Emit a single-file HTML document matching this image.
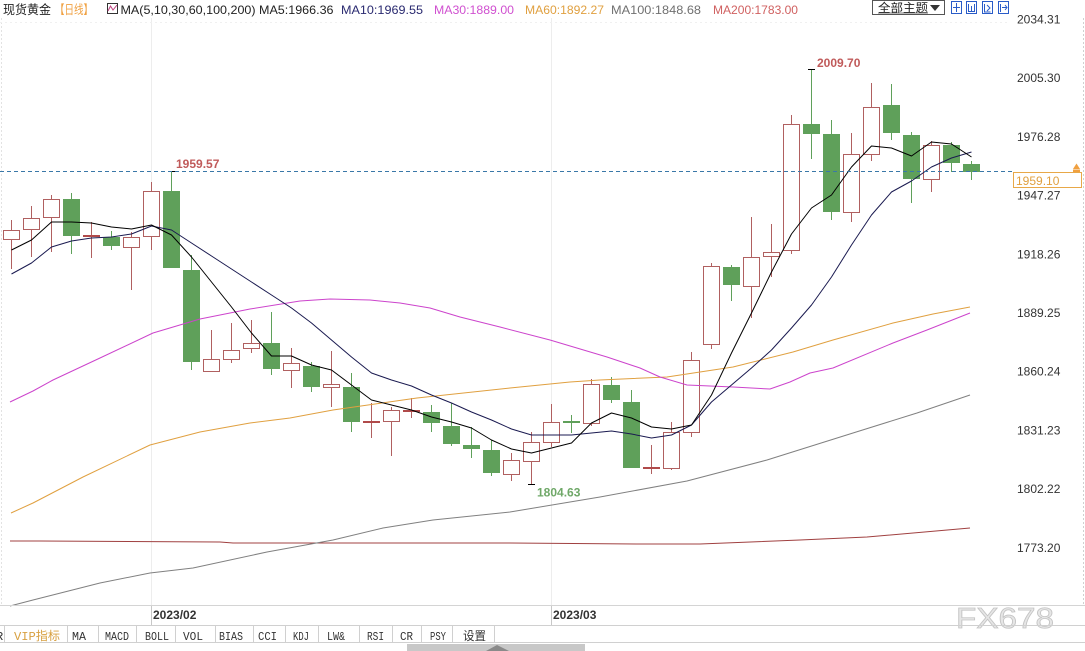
<!DOCTYPE html>
<html><head><meta charset="utf-8"><style>
html,body{margin:0;padding:0;background:#fff;}
svg{display:block;}
</style></head><body>
<svg width="1085" height="651" viewBox="0 0 1085 651" xmlns="http://www.w3.org/2000/svg" font-family="'Liberation Sans','Noto Sans CJK SC',sans-serif">
<rect width="1085" height="651" fill="#fff"/>

<!-- header -->
<g font-size="12">
<text x="3" y="14" textLength="48" lengthAdjust="spacingAndGlyphs" fill="#222" font-size="12.5">现货黄金</text>
<text x="55" y="14" textLength="38" lengthAdjust="spacingAndGlyphs" fill="#f0a040" font-size="12.5">【日线】</text>
<rect x="107.5" y="3.5" width="10" height="10" fill="none" stroke="#333" stroke-width="1"/>
<polyline points="108,11 110.5,6 113,10 117,5" fill="none" stroke="#c04080" stroke-width="1"/>
<text x="120.5" y="14" textLength="213" lengthAdjust="spacingAndGlyphs" fill="#222">MA(5,10,30,60,100,200) MA5:1966.36</text>
<text x="341" y="14" textLength="82" lengthAdjust="spacingAndGlyphs" fill="#2a2a70">MA10:1969.55</text>
<text x="434" y="14" textLength="80" lengthAdjust="spacingAndGlyphs" fill="#d050d0">MA30:1889.00</text>
<text x="525" y="14" textLength="79" lengthAdjust="spacingAndGlyphs" fill="#e0a040">MA60:1892.27</text>
<text x="611" y="14" textLength="90" lengthAdjust="spacingAndGlyphs" fill="#707070">MA100:1848.68</text>
<text x="713" y="14" textLength="85" lengthAdjust="spacingAndGlyphs" fill="#d06060">MA200:1783.00</text>
</g>
<rect x="872.5" y="0.5" width="72" height="14" fill="#fff" stroke="#555"/>
<text x="878" y="12" font-size="12" textLength="50" lengthAdjust="spacingAndGlyphs" fill="#222">全部主题</text>
<line x1="878" y1="13" x2="928" y2="13" stroke="#444" stroke-width="0.8"/>
<polygon points="930,5 940,5 935,11" fill="#333"/>
<g fill="#fff" stroke="#2a5cc8" stroke-width="1">
<rect x="951.5" y="1.5" width="10" height="12"/>
<rect x="966.5" y="1.5" width="10" height="12"/>
<rect x="982.5" y="1.5" width="10" height="12"/>
<rect x="998.5" y="1.5" width="10" height="12"/>
</g>
<g stroke="#2a5cc8" stroke-width="1" fill="none">
<path d="M956.5 3v9M953 7.5h7"/>
<path d="M968.5 4v7M974.5 4v7M968 11.5h7M971.5 6v5"/>
<path d="M984.5 4v8h6M987 5l3 3-3 3"/>
<path d="M1000.5 4v8M1002 7.5h5M1005 5l2 2.5-2 2.5"/>
</g>

<!-- grid / borders -->
<line x1="151.5" y1="18" x2="151.5" y2="606" stroke="#ededed"/>
<line x1="551.5" y1="18" x2="551.5" y2="606" stroke="#ededed"/>
<line x1="1.5" y1="18" x2="1.5" y2="606" stroke="#e2e2e2" stroke-dasharray="2,2"/>
<line x1="1083.5" y1="18" x2="1083.5" y2="606" stroke="#d0d0d0" stroke-dasharray="2,2"/>
<line x1="0" y1="22.5" x2="1010" y2="22.5" stroke="#f0f0f0" stroke-dasharray="2,3"/>

<!-- candles: wicks -->
<g stroke-width="1" shape-rendering="crispEdges">
<g stroke="#b06060">
<line x1="11.5" y1="220" x2="11.5" y2="269"/>
<line x1="31.5" y1="206" x2="31.5" y2="257"/>
<line x1="51.5" y1="195" x2="51.5" y2="252"/>
<line x1="91.5" y1="222" x2="91.5" y2="258"/>
<line x1="131.5" y1="232" x2="131.5" y2="290"/>
<line x1="151.5" y1="182" x2="151.5" y2="250"/>
<line x1="211.5" y1="330" x2="211.5" y2="372"/>
<line x1="231.5" y1="323" x2="231.5" y2="363"/>
<line x1="251.5" y1="320" x2="251.5" y2="353"/>
<line x1="291.5" y1="348" x2="291.5" y2="388"/>
<line x1="331.5" y1="351" x2="331.5" y2="407"/>
<line x1="371.5" y1="403" x2="371.5" y2="438"/>
<line x1="391.5" y1="407" x2="391.5" y2="456"/>
<line x1="411.5" y1="398" x2="411.5" y2="418"/>
<line x1="511.5" y1="453" x2="511.5" y2="481"/>
<line x1="531.5" y1="432" x2="531.5" y2="484"/>
<line x1="551.5" y1="404" x2="551.5" y2="447"/>
<line x1="591.5" y1="379" x2="591.5" y2="426"/>
<line x1="651.5" y1="445" x2="651.5" y2="474"/>
<line x1="671.5" y1="422" x2="671.5" y2="470"/>
<line x1="691.5" y1="352" x2="691.5" y2="437"/>
<line x1="711.5" y1="263" x2="711.5" y2="349"/>
<line x1="751.5" y1="217" x2="751.5" y2="318"/>
<line x1="771.5" y1="224" x2="771.5" y2="277"/>
<line x1="791.5" y1="115" x2="791.5" y2="254"/>
<line x1="851.5" y1="133" x2="851.5" y2="222"/>
<line x1="871.5" y1="83" x2="871.5" y2="161"/>
<line x1="931.5" y1="141" x2="931.5" y2="192"/>
</g>
<g stroke="#5fa05a">
<line x1="71.5" y1="193" x2="71.5" y2="254"/>
<line x1="111.5" y1="231" x2="111.5" y2="250"/>
<line x1="171.5" y1="171" x2="171.5" y2="268"/>
<line x1="191.5" y1="255" x2="191.5" y2="370"/>
<line x1="271.5" y1="312" x2="271.5" y2="375"/>
<line x1="311.5" y1="362" x2="311.5" y2="392"/>
<line x1="351.5" y1="373" x2="351.5" y2="432"/>
<line x1="431.5" y1="405" x2="431.5" y2="432"/>
<line x1="451.5" y1="403" x2="451.5" y2="446"/>
<line x1="471.5" y1="427" x2="471.5" y2="458"/>
<line x1="491.5" y1="440" x2="491.5" y2="476"/>
<line x1="571.5" y1="415" x2="571.5" y2="433"/>
<line x1="611.5" y1="377" x2="611.5" y2="403"/>
<line x1="631.5" y1="390" x2="631.5" y2="468"/>
<line x1="731.5" y1="265" x2="731.5" y2="301"/>
<line x1="811.5" y1="69" x2="811.5" y2="159"/>
<line x1="831.5" y1="120" x2="831.5" y2="220"/>
<line x1="891.5" y1="84" x2="891.5" y2="140"/>
<line x1="911.5" y1="132" x2="911.5" y2="203"/>
<line x1="951.5" y1="142" x2="951.5" y2="172"/>
<line x1="971.5" y1="161" x2="971.5" y2="180"/>
</g>
<!-- hollow up bodies -->
<g fill="#fff" stroke="#b06060">
<rect x="3.5" y="230.5" width="16" height="9"/>
<rect x="23.5" y="218.5" width="16" height="11"/>
<rect x="43.5" y="199.5" width="16" height="18"/>
<rect x="123.5" y="237.5" width="16" height="10"/>
<rect x="143.5" y="191.5" width="16" height="45"/>
<rect x="203.5" y="359.5" width="16" height="12"/>
<rect x="223.5" y="350.5" width="16" height="9"/>
<rect x="243.5" y="343.5" width="16" height="5"/>
<rect x="283.5" y="363.5" width="16" height="7"/>
<rect x="323.5" y="384.5" width="16" height="3"/>
<rect x="383.5" y="410.5" width="16" height="11"/>
<rect x="503.5" y="460.5" width="16" height="14"/>
<rect x="523.5" y="442.5" width="16" height="19"/>
<rect x="543.5" y="422.5" width="16" height="20"/>
<rect x="583.5" y="384.5" width="16" height="39"/>
<rect x="663.5" y="432.5" width="16" height="36"/>
<rect x="683.5" y="360.5" width="16" height="72"/>
<rect x="703.5" y="266.5" width="16" height="78"/>
<rect x="743.5" y="257.5" width="16" height="29"/>
<rect x="763.5" y="252.5" width="16" height="4"/>
<rect x="783.5" y="124.5" width="16" height="126"/>
<rect x="843.5" y="154.5" width="16" height="58"/>
<rect x="863.5" y="107.5" width="16" height="47"/>
<rect x="923.5" y="145.5" width="16" height="34"/>
</g>
<!-- red dojis -->
<g fill="#b04a4a">
<rect x="83" y="235" width="17" height="2"/>
<rect x="363" y="421" width="17" height="2"/>
<rect x="403" y="410" width="17" height="2"/>
<rect x="643" y="467" width="17" height="2"/>
</g>
<!-- green bodies -->
<g fill="#5fa05a">
<rect x="63" y="199" width="17" height="37"/>
<rect x="103" y="237" width="17" height="9"/>
<rect x="163" y="191" width="17" height="77"/>
<rect x="183" y="270" width="17" height="92"/>
<rect x="263" y="343" width="17" height="26"/>
<rect x="303" y="366" width="17" height="21"/>
<rect x="343" y="387" width="17" height="35"/>
<rect x="423" y="412" width="17" height="11"/>
<rect x="443" y="426" width="17" height="18"/>
<rect x="463" y="445" width="17" height="4"/>
<rect x="483" y="450" width="17" height="23"/>
<rect x="563" y="421" width="17" height="2"/>
<rect x="603" y="385" width="17" height="15"/>
<rect x="623" y="402" width="17" height="66"/>
<rect x="723" y="267" width="17" height="18"/>
<rect x="803" y="124" width="17" height="10"/>
<rect x="823" y="134" width="17" height="78"/>
<rect x="883" y="105" width="17" height="28"/>
<rect x="903" y="135" width="17" height="44"/>
<rect x="943" y="145" width="17" height="18"/>
<rect x="963" y="164" width="17" height="8"/>
</g>
</g>

<!-- MA lines -->
<g fill="none" stroke-width="1" stroke-linejoin="round">
<polyline stroke="#a04040" points="10,541 40,541 220,542 233,543 510,543 640,544 700,544 800,540 867,537 970,528"/>
<polyline stroke="#808080" points="10,606 33,600 100,583 150,573 193,568 267,552 333,540 383,528 433,520 510,512 600,497 687,481 767,460 853,433 917,413 970,395"/>
<polyline stroke="#e0a040" points="11,513 33,503 83,477 150,445 200,432 250,423 290,418 333,410 417,398 510,388 570,382 600,380 667,377 733,367 793,352 833,340 893,323 933,314 970,307"/>
<polyline stroke="#cc44cc" points="10,402 33,391 53,380 100,358 153,333 200,319 250,309 300,301 330,299 370,300 400,303 430,308 460,317 500,327 550,340 607,357 640,368 660,377 687,385 733,387 770,389 790,382 810,373 833,368 893,343 927,330 970,313"/>
<polyline stroke="#1a1a50" points="11.5,274 31.5,263 51.5,247 71.5,241 91.5,238 111.5,237 131.5,234 151.5,226 171.5,230 191.5,243 211.5,256 231.5,269 251.5,282 271.5,295 291.5,308 311.5,323 331.5,340 351.5,357 371.5,373 391.5,380 411.5,386 431.5,395 451.5,403 471.5,412 491.5,420 511.5,429 531.5,435 551.5,435 571.5,435 591.5,433 611.5,431 631.5,434 651.5,438 671.5,435 691.5,425 711.5,402 731.5,385 751.5,368 771.5,350 791.5,328 811.5,305 831.5,277 851.5,245 871.5,215 891.5,192 911.5,181 931.5,167 951.5,158 971.5,152"/>
<polyline stroke="#000" points="11.5,250 31.5,240 51.5,222 71.5,222 91.5,223 111.5,227 131.5,229 151.5,225 171.5,235 191.5,257 211.5,282 231.5,307 251.5,333 271.5,356 291.5,356 311.5,365 331.5,370 351.5,385 371.5,400 391.5,405 411.5,410 431.5,417 451.5,422 471.5,428 491.5,440 511.5,449 531.5,453 551.5,448 571.5,443 591.5,423 611.5,413 631.5,418 651.5,427 671.5,429 691.5,425 711.5,395 731.5,353 751.5,313 771.5,272 791.5,234 811.5,208 831.5,195 851.5,167 871.5,146 891.5,148 911.5,156 931.5,142 951.5,144 971.5,157"/>
</g>

<!-- high/low markers -->
<g stroke="#000" stroke-width="1" shape-rendering="crispEdges">
<line x1="168" y1="171.5" x2="175" y2="171.5"/>
<line x1="808" y1="69.5" x2="815" y2="69.5"/>
<line x1="528" y1="484.5" x2="535" y2="484.5"/>
</g>
<g font-size="12" font-weight="bold">
<text x="176" y="168" fill="#c05a5a">1959.57</text>
<text x="817" y="67" fill="#c05a5a">2009.70</text>
<text x="537" y="496.5" fill="#6fa868">1804.63</text>
</g>

<!-- current price line -->
<line x1="0" y1="171.5" x2="1013" y2="171.5" stroke="#3a78a8" stroke-width="1" stroke-dasharray="4,3"/>

<!-- y axis labels -->
<g font-size="12" fill="#333">
<text x="1017" y="23.4">2034.31</text>
<text x="1017" y="82.1">2005.30</text>
<text x="1017" y="140.8">1976.28</text>
<text x="1017" y="199.6">1947.27</text>
<text x="1017" y="258.3">1918.26</text>
<text x="1017" y="317">1889.25</text>
<text x="1017" y="375.7">1860.24</text>
<text x="1017" y="434.5">1831.23</text>
<text x="1017" y="493.2">1802.22</text>
<text x="1017" y="551.9">1773.20</text>
</g>
<rect x="1013.5" y="172.5" width="68" height="15" fill="#fff" stroke="#e8a848"/>
<text x="1016" y="185" font-size="12" fill="#e0a040">1959.10</text>
<polygon points="1073,169 1076.5,163.5 1080,169" fill="#f0a040"/>
<rect x="1073" y="169.5" width="7" height="2.5" fill="#f0a040"/>

<!-- date axis -->
<line x1="0" y1="605.5" x2="1085" y2="605.5" stroke="#d4d4d4"/>
<line x1="151.5" y1="606" x2="151.5" y2="626" stroke="#c8c8c8"/>
<line x1="551.5" y1="606" x2="551.5" y2="626" stroke="#c8c8c8"/>
<g font-size="12" font-weight="bold" fill="#333">
<text x="153" y="619">2023/02</text>
<text x="553" y="619">2023/03</text>
</g>
<text x="956" y="628" font-size="29" textLength="98" lengthAdjust="spacingAndGlyphs" fill="#e6e6e6" stroke="#c4c4c4" stroke-width="0.8">FX678</text>

<!-- toolbar -->
<line x1="0" y1="625.5" x2="1085" y2="625.5" stroke="#d0d0d0"/>
<line x1="0" y1="642.5" x2="1085" y2="642.5" stroke="#d0d0d0"/>
<g stroke="#d0d0d0">
<line x1="4.5" y1="626" x2="4.5" y2="642"/>
<line x1="67.5" y1="626" x2="67.5" y2="642"/>
<line x1="98.5" y1="626" x2="98.5" y2="642"/>
<line x1="136.5" y1="626" x2="136.5" y2="642"/>
<line x1="175.5" y1="626" x2="175.5" y2="642"/>
<line x1="215.5" y1="626" x2="215.5" y2="642"/>
<line x1="253.5" y1="626" x2="253.5" y2="642"/>
<line x1="285.5" y1="626" x2="285.5" y2="642"/>
<line x1="318.5" y1="626" x2="318.5" y2="642"/>
<line x1="359.5" y1="626" x2="359.5" y2="642"/>
<line x1="392.5" y1="626" x2="392.5" y2="642"/>
<line x1="421.5" y1="626" x2="421.5" y2="642"/>
<line x1="452.5" y1="626" x2="452.5" y2="642"/>
<line x1="494.5" y1="626" x2="494.5" y2="642"/>
</g>
<g font-family="'Liberation Mono','Noto Sans CJK SC',monospace" font-size="12" fill="#333">
<text x="-4" y="640">R</text>
<text x="14" y="640" textLength="46" lengthAdjust="spacingAndGlyphs" fill="#d8a040">VIP指标</text>
<text x="72" y="640" textLength="14" lengthAdjust="spacingAndGlyphs">MA</text>
<text x="105" y="640" textLength="24" lengthAdjust="spacingAndGlyphs">MACD</text>
<text x="145" y="640" textLength="24" lengthAdjust="spacingAndGlyphs">BOLL</text>
<text x="183" y="640" textLength="20" lengthAdjust="spacingAndGlyphs">VOL</text>
<text x="219" y="640" textLength="24" lengthAdjust="spacingAndGlyphs">BIAS</text>
<text x="258" y="640" textLength="19" lengthAdjust="spacingAndGlyphs">CCI</text>
<text x="293" y="640" textLength="16" lengthAdjust="spacingAndGlyphs">KDJ</text>
<text x="327" y="640" textLength="18" lengthAdjust="spacingAndGlyphs">LW&amp;</text>
<text x="367" y="640" textLength="17" lengthAdjust="spacingAndGlyphs">RSI</text>
<text x="400" y="640" textLength="13" lengthAdjust="spacingAndGlyphs">CR</text>
<text x="430" y="640" textLength="16" lengthAdjust="spacingAndGlyphs">PSY</text>
<text x="463" y="640" textLength="23" lengthAdjust="spacingAndGlyphs">设置</text>
</g>

<!-- scrollbar -->
<rect x="407" y="644" width="178" height="7" fill="#c8c8c8"/>
<polygon points="486,651 497,645 509,651" fill="#8a8a8a"/>
</svg>
</body></html>
